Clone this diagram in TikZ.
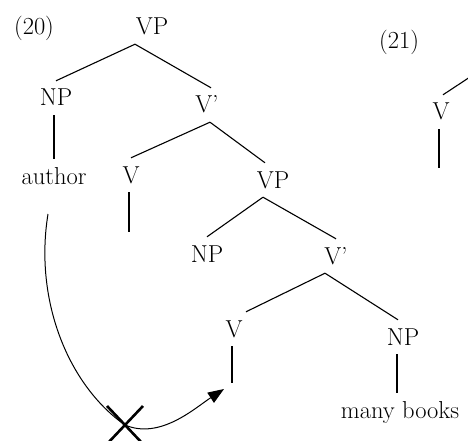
\documentclass[tikz,border=0pt]{standalone}
\usepackage{tikz}
\usetikzlibrary{arrows.meta}

\begin{document}
\begin{tikzpicture}[x=1pt, y=-1pt,
	every node/.style={font=\fontsize{24.5}{28}\selectfont, inner xsep=1pt, inner ysep=9pt, text height=16pt, text depth=0pt},
	branch/.style={line width=1.1pt},
	move/.style={line width=1pt, -{Triangle[length=16pt, width=12pt]}}]
	\useasboundingbox (0,0) rectangle (468,441);
	\clip (0,0) rectangle (468,441);

	% 例句编号
	\node (ex20) at (34,27) {(20)};
	\node (ex21) at (399,41) {(21)};

	% 树 (20)
	\node (vp1) at (152,27) {VP};
	\node (np1) at (56,98) {NP};
	\node (vbar1) at (207,105) {V'};
	\node (author) at (54,176) {author};
	\node (v1) at (131,175) {V};
	\node (vp2) at (273,180) {VP};
	\node (np2) at (207,254) {NP};
	\node (vbar2) at (336,256) {V'};
	\node (v2) at (234,329) {V};
	\node (np3) at (403,337) {NP};
	\node (books) at (400,410) {many books};

	\draw[branch] ([xshift=-17pt]vp1.south) -- (np1.north);
	\draw[branch] ([xshift=-17pt]vp1.south) -- ([xshift=4pt]vbar1.north);
	\draw[branch] ([xshift=-2pt]np1.south) -- ([xshift=-2pt]np1.south |- author.north);
	\draw[branch] ([xshift=3pt]vbar1.south) -- (v1.north);
	\draw[branch] ([xshift=3pt]vbar1.south) -- ([xshift=-8pt]vp2.north);
	\draw[branch] ([xshift=-10pt]vp2.south) -- (np2.north);
	\draw[branch] ([xshift=-10pt]vp2.south) -- (vbar2.north);
	\draw[branch] ([xshift=-11pt]vbar2.south) -- ([xshift=12pt]v2.north);
	\draw[branch] ([xshift=-11pt]vbar2.south) -- ([xshift=-5pt]np3.north);
	\draw[branch] ([xshift=-6pt]np3.south) -- ([xshift=-6pt]np3.south |- books.north);

	% 空的 V 位置
	\coordinate (v1foot) at (129,232);
	\coordinate (v2foot) at (232,383);
	\draw[branch] (v1.south -| v1foot) -- (v1foot);
	\draw[branch] (v2.south -| v2foot) -- (v2foot);

	% 树 (21) 的一部分
	\node (v3) at (441,112) {V};
	\coordinate (v3top) at (470,77);
	\coordinate (v3foot) at (439,168);
	\draw[branch] ([xshift=2pt]v3.north) -- (v3top);
	\draw[branch] (v3.south -| v3foot) -- (v3foot);

	% 移动箭头与叉号
	\coordinate (src) at (48,214);
	\coordinate (cross) at (125,425);
	\coordinate (tgt) at (224,389);
	\draw[move] (src) .. controls (34,300) and (68,385) .. (cross) .. controls (160,440) and (195,408) .. (tgt);
	\draw[line width=2.6pt] ([shift={(-18,-19)}]cross) -- ([shift={(18,19)}]cross);
	\draw[line width=2.6pt] ([shift={(18,-19)}]cross) -- ([shift={(-18,19)}]cross);
\end{tikzpicture}
\end{document}
